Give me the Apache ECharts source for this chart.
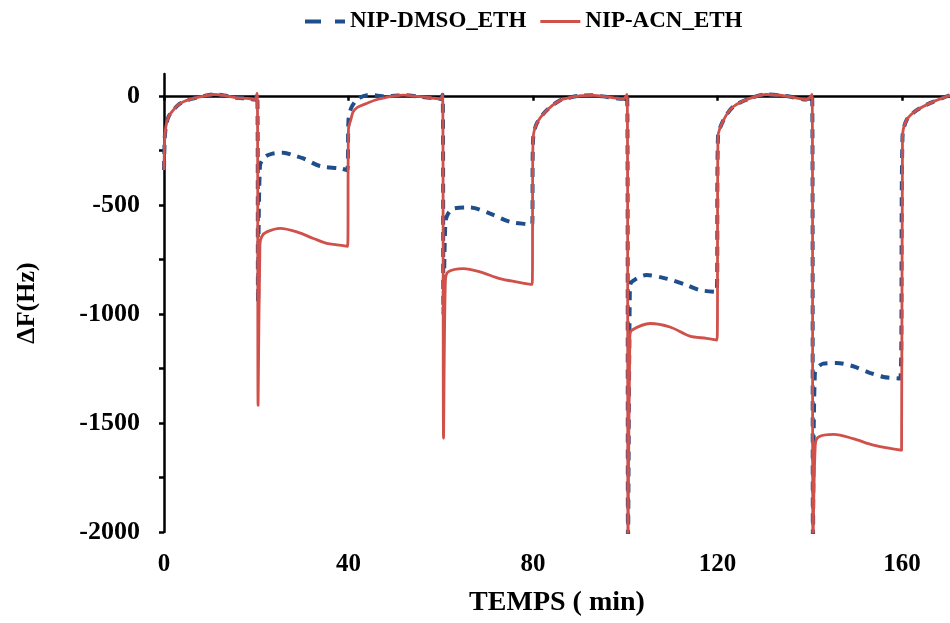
<!DOCTYPE html>
<html>
<head>
<meta charset="utf-8">
<script src="https://cdn.jsdelivr.net/npm/echarts@6/dist/echarts.min.js"></script>
<style>html,body{margin:0;padding:0;background:#fff}#c{width:950px;height:623px}</style>
</head>
<body>
<div id="c"></div>
<script>
var seriesNames = ['NIP-DMSO_ETH', 'NIP-ACN_ETH'];
var xTickValues = [0, 20, 40, 60, 80, 100, 120, 140, 160];
var xLabelValues = [0, 40, 80, 120, 160];
var yTickValues = [-2000, -1750, -1500, -1250, -1000, -750, -500, -250, 0];
var yLabelValues = [-2000, -1500, -1000, -500, 0];

var acnT = [0,0.15,0.4,1,2,3,4.2,6,7.8,10.7,13,15.8,18,19.7,20.2,20.4,20.8,21.2,22.3,25.2,28.8,32.4,35.3,37.5,39.8,
  40,40.5,41,42,43.9,46,48,50,52,55,58,60,60.4,60.6,61,61.6,64.9,68.5,72.8,76.4,79.8,
  80,80.8,83,85.9,88,90,93,96,99.5,100.4,100.6,101,101.4,105.4,109.7,114,117.6,119.9,
  120.1,121.3,123.4,127,130.6,134.9,139.3,140.5,140.7,141.2,141.9,145.2,149.4,153.8,157.4,159.9,
  160.1,161,163.2,166.8,170.4];
var acnV = [-340,-200,-142,-95,-66,-43,-27,-14,-5,6,2,-9,-12,-17,11,-1420,-680,-645,-624,-608,-624,-654,-677,-683,-690,
  -150,-110,-73,-52,-35,-18,-8,0,3,-3,-10,-14,5,-1570,-850,-807,-792,-807,-838,-853,-865,
  -204,-127,-66,-20,-8,0,2,-5,-14,6,-2050,-1100,-1075,-1044,-1060,-1102,-1112,-1120,
  -188,-111,-50,-12,6,-1,-17,6,-2050,-1600,-1564,-1552,-1572,-1602,-1617,-1625,
  -190,-111,-66,-27,3];

var dmsoT = [0,0.15,0.4,1,2,3,4.2,6,7.8,10.7,13,15.8,18,19.7,20.2,20.4,20.8,21.9,23.5,25.9,28,30.2,33.8,38.2,39.7,
  40,40.5,41.5,42.5,44,46,48,50,52,55,58,60,60.4,60.6,61,61.6,62.7,66.3,70.7,75,79,79.8,
  80,80.8,83,85.9,88,90,93,96,99.5,100.4,100.6,101,101.4,104.6,108.9,113.3,116.2,119.8,
  120.1,121.3,123.4,127,130.6,134.9,139.3,140.5,140.7,141.1,142.9,145.8,149.4,153,156,159.6,
  160.1,161,163.2,166.8,170.4];
var dmsoV = [-340,-200,-142,-95,-66,-43,-27,-14,-5,6,2,-9,-12,-17,8,-950,-320,-280,-265,-261,-272,-287,-322,-333,-341,
  -111,-60,-25,-8,3,2,-3,0,3,-3,-10,-14,5,-1000,-580,-540,-517,-512,-540,-578,-589,-592,
  -204,-127,-66,-20,-8,0,2,-5,-14,6,-2050,-880,-853,-822,-838,-868,-891,-899,
  -188,-111,-50,-12,6,-1,-17,6,-2050,-1273,-1228,-1225,-1240,-1270,-1289,-1296,
  -190,-111,-66,-27,3];

function pairs(t, v) { return t.map(function (x, i) { return [x, v[i]]; }); }
function plain(v) { return String(v); }

var FONT = 'Liberation Serif';
var chart = echarts.init(document.getElementById('c'), null, {renderer: 'canvas'});
chart.setOption({
  animation: false,
  backgroundColor: '#ffffff',
  legend: {
    top: 5,
    left: 300,
    itemWidth: 40,
    itemHeight: 4,
    itemGap: 14,
    textStyle: {fontFamily: FONT, fontWeight: 'bold', fontSize: 23, color: '#000'},
    data: [
      {name: seriesNames[0], icon: 'path://M0,0h16v4h-16z M30,0h10v4h-10z', itemStyle: {color: '#1f4e8c'}},
      {name: seriesNames[1], icon: 'path://M0,0h40v3h-40z', itemStyle: {color: '#d0504a'}}
    ]
  },
  grid: {left: 164, right: 0, top: 74, bottom: 91, containLabel: false},
  xAxis: {
    type: 'value', min: 0, max: 170.4,
    name: 'TEMPS ( min)', nameLocation: 'middle', nameGap: 57,
    nameTextStyle: {fontFamily: FONT, fontWeight: 'bold', fontSize: 28, color: '#000'},
    axisLine: {show: true, lineStyle: {color: '#000', width: 2.5}},
    axisTick: {show: true, length: 5, customValues: xTickValues, lineStyle: {color: '#000', width: 2.5}},
    axisLabel: {customValues: xLabelValues, formatter: plain, margin: 20, fontFamily: FONT, fontWeight: 'bold', fontSize: 25, color: '#000'},
    splitLine: {show: false}
  },
  yAxis: {
    type: 'value', min: -2000, max: 100,
    name: 'ΔF(Hz)', nameLocation: 'middle', nameGap: 124, nameRotate: 90,
    nameTextStyle: {fontFamily: FONT, fontWeight: 'bold', fontSize: 26, color: '#000'},
    axisLine: {show: true, lineStyle: {color: '#000', width: 2.5}},
    axisTick: {show: true, length: 5, customValues: yTickValues, lineStyle: {color: '#000', width: 2.5}},
    axisLabel: {customValues: yLabelValues, formatter: plain, margin: 24, fontFamily: FONT, fontWeight: 'bold', fontSize: 26, color: '#000'},
    splitLine: {show: false}
  },
  series: [
    {
      name: seriesNames[0], type: 'line', showSymbol: false, symbol: 'none', smooth: 0.3, clip: true,
      data: pairs(dmsoT, dmsoV),
      lineStyle: {color: '#1f4e8c', width: 4, type: [9, 7]},
      itemStyle: {color: '#1f4e8c'},
      z: 2
    },
    {
      name: seriesNames[1], type: 'line', showSymbol: false, symbol: 'none', smooth: 0.3, clip: true,
      data: pairs(acnT, acnV),
      lineStyle: {color: '#d0504a', width: 2.8},
      itemStyle: {color: '#d0504a'},
      z: 3
    }
  ]
});
</script>
</body>
</html>
